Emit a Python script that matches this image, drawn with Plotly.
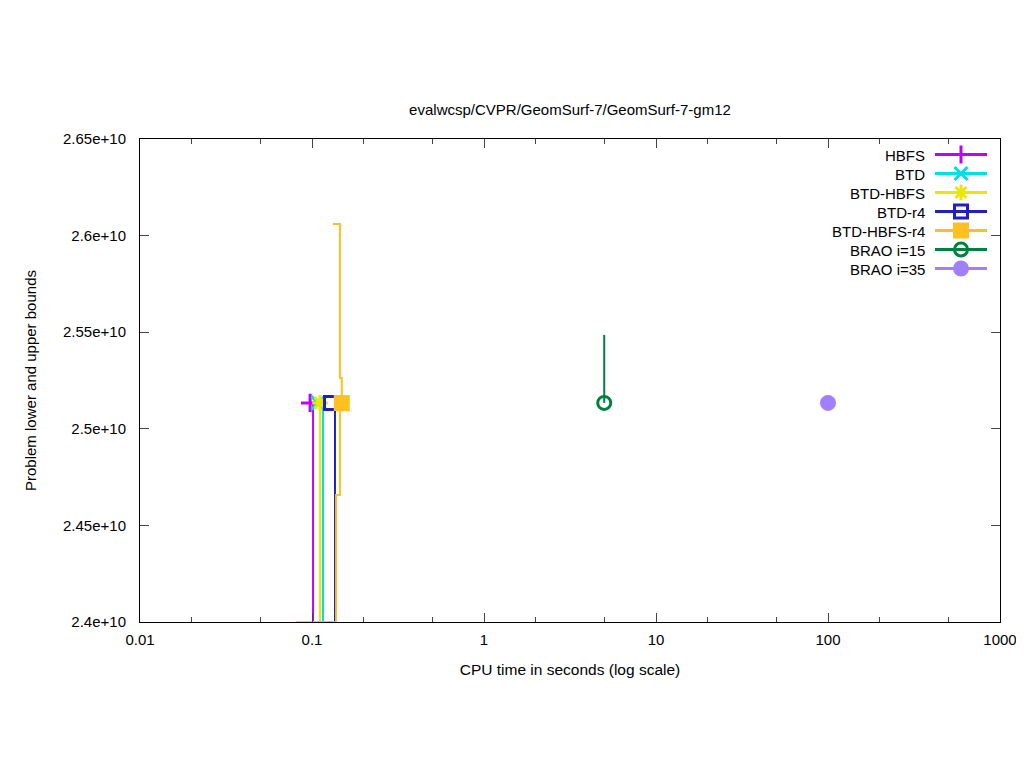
import plotly.graph_objects as go

# solver names and colours
names = ["HBFS", "BTD", "BTD-HBFS", "BTD-r4", "BTD-HBFS-r4", "BRAO i=15", "BRAO i=35"]
colors = ["#c000ff", "#00e0e0", "#e8e800", "#2020c0", "#ffc020", "#008040", "#a080ff"]
symbols = ["cross-thin-open", "x-thin-open", "asterisk-open", "square-open", "square",
           "circle-open", "circle"]

# lower bound step curves (time, value)
lb_t = [
    [0.1014, 0.1014],
    [0.1159, 0.1159],
    [0.0807, 0.1114, 0.1114],
    [0.136, 0.136],
    [0.0948, 0.138, 0.138, 0.1453, 0.1453],
    [5.0, 5.0],
    [],
]
lb_v = [
    [2.39e10, 2.5134e10],
    [2.39e10, 2.5134e10],
    [2.4e10, 2.4e10, 2.5134e10],
    [2.39e10, 2.5134e10],
    [2.4e10, 2.4e10, 2.4657e10, 2.4657e10, 2.5134e10],
    [2.5486e10, 2.5134e10],
    [],
]

# upper bound step curves
ub_t = [[], [], [], [], [0.1324, 0.1453, 0.1453, 0.149, 0.149], [], []]
ub_v = [[], [], [], [], [2.606e10, 2.606e10, 2.5263e10, 2.5263e10, 2.5134e10], [], []]

# final (optimum) points
opt_t = [0.0975, 0.1084, 0.1114, 0.129, 0.149, 5.0, 100.0]
opt_v = [2.5134e10] * 7

y_ticks = [2.4e10, 2.45e10, 2.5e10, 2.55e10, 2.6e10, 2.65e10]
y_text = ["2.4e+10", "2.45e+10", "2.5e+10", "2.55e+10", "2.6e+10", "2.65e+10"]
x_ticks = [0.01, 0.1, 1, 10, 100, 1000]
x_text = ["0.01", "0.1", "1", "10", "100", "1000"]

FONT = "Liberation Sans, Arial, sans-serif"

# page has an 8px body margin, so the figure is 8px smaller each way
W, H = 1016, 760

fig = go.Figure()
for i, n in enumerate(names):
    if lb_t[i]:
        fig.add_trace(go.Scatter(x=lb_t[i], y=lb_v[i], mode="lines", line_shape="hv",
                                 line=dict(color=colors[i], width=2), showlegend=False,
                                 hoverinfo="skip"))
    if ub_t[i]:
        fig.add_trace(go.Scatter(x=ub_t[i], y=ub_v[i], mode="lines", line_shape="hv",
                                 line=dict(color=colors[i], width=2), showlegend=False,
                                 hoverinfo="skip"))
    # legend entry text is blank; labels are drawn right-aligned as annotations
    fig.add_trace(go.Scatter(x=[opt_t[i]], y=[opt_v[i]], mode="lines+markers", name=" ",
                             meta=n, hovertemplate="%{meta}<br>%{x}s: %{y}<extra></extra>",
                             line=dict(color=colors[i], width=3),
                             marker=dict(symbol=symbols[i], size=13, color=colors[i],
                                         line=dict(color=colors[i], width=3))))

# legend labels, left of the samples (gnuplot style)
for i, n in enumerate(names):
    fig.add_annotation(x=(927 - 140) / 860, y=(622 - (155 + 19 * i)) / 483,
                       xref="paper", yref="paper",
                       text=n, showarrow=False, xanchor="right", yanchor="middle",
                       font=dict(family=FONT, size=15, color="black"))

fig.update_layout(
    width=W, height=H,
    margin=dict(l=132, r=24, t=131, b=146, autoexpand=False),
    paper_bgcolor="white", plot_bgcolor="white",
    font=dict(family=FONT, size=15, color="black"),
    title=dict(text="evalwcsp/CVPR/GeomSurf-7/GeomSurf-7-gm12", x=562 / W, xanchor="center",
               y=1 - 102 / H, yanchor="middle", font=dict(size=15)),
    legend=dict(x=(930 - 140) / 860, y=1 - 1 / 483, xanchor="left", yanchor="top",
                bgcolor="rgba(0,0,0,0)", font=dict(size=12),
                itemwidth=52, tracegroupgap=0),
    showlegend=True,
)
fig.update_xaxes(type="log", range=[-2, 3], tickvals=x_ticks, ticktext=x_text,
                 ticks="inside", ticklen=9, mirror="ticks", showline=True,
                 linecolor="black", linewidth=1, showgrid=False, zeroline=False,
                 tickfont=dict(size=15), ticklabelstandoff=4,
                 minor=dict(ticks="inside", ticklen=5, dtick="D2", showgrid=False),
                 title=dict(text="CPU time in seconds (log scale)", standoff=17,
                            font=dict(size=15.5)))
fig.update_yaxes(range=[2.4e10, 2.65e10], tickvals=y_ticks, ticktext=y_text,
                 ticks="inside", ticklen=9, mirror="ticks", showline=True,
                 linecolor="black", linewidth=1, showgrid=False, zeroline=False,
                 tickfont=dict(size=15), ticklabelstandoff=10,
                 title=dict(text="Problem lower and upper bounds", standoff=22,
                            font=dict(size=15)))

fig.write_html("out.html")
